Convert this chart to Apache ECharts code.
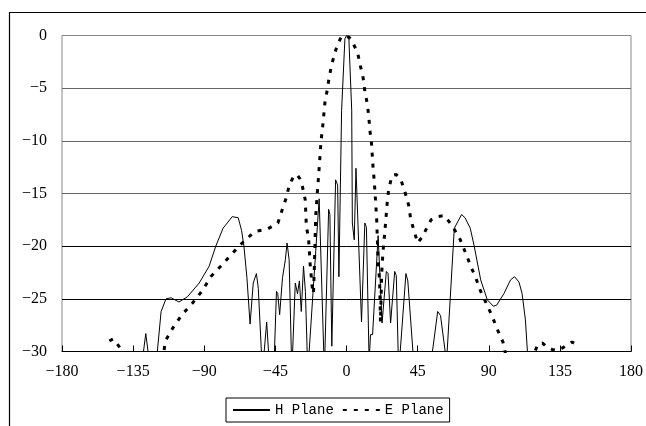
<!DOCTYPE html>
<html>
<head>
<meta charset="utf-8">
<script src="https://cdn.jsdelivr.net/npm/echarts@6/dist/echarts.min.js"></script>
<style>
html,body{margin:0;padding:0;background:#fff;}
#chart{width:646px;height:426px;}
</style>
</head>
<body>
<div id="chart"></div>
<script>
// Axis ticks
const xTicks = [-180, -135, -90, -45, 0, 45, 90, 135, 180];
const yTicks = [-30, -25, -20, -15, -10, -5, 0];
const seriesNames = ['H Plane', 'E Plane'];

// H Plane (solid)
const hAngles = [-131, -127, -123, -120, -117.3, -114.2, -111, -106, -100.6, -93.2, -86.9, -82.7, -78.1, -72.3, -68.5, -66.4, -64.9,
  -63, -61, -59, -57, -55.8, -53.2, -50.5, -48.5, -45.8, -44.3, -43.5, -42.3, -40.5, -38.7, -37.6, -36.3, -34.6,
  -32.4, -31, -29.8, -28.6, -27.2, -26, -24.5, -17.3, -14, -11.3, -10.5, -9.3, -6.9, -5.6, -4.8,
  -3.1, -1.0, 0, 1.5, 3.3, 3.7, 4.9, 6.0, 7.2, 9.5, 11.6, 12.6, 14.3, 15.2, 16.5, 20.0, 22.5, 25.2, 26.3, 27.9,
  30.5, 31.5, 33, 37.6, 38.8, 43, 53.5, 57.7, 59.5, 63.3, 68.2, 72.8, 75, 78.3, 80.8, 84.9, 89.1, 92.9, 95,
  99.6, 103.8, 106.3, 109.1, 111.1, 113.2, 115.3];
const hValues = [-33, -28.3, -33, -30.5, -26.2, -25.0, -24.9, -25.3, -24.8, -23.5, -21.9, -20.0, -18.3, -17.2, -17.3, -18.5, -20.0,
  -23, -27.4, -23.5, -22.6, -24, -32, -27.2, -32, -31, -24.3, -24.5, -26.5, -23, -21.3, -19.7, -21.3, -32,
  -23.5, -24.5, -23.3, -26.2, -21.9, -24.3, -32, -15.5, -32, -16.5, -17, -29.5, -13.7, -14.2, -22.9,
  -7.1, -0.3, 0, -0.3, -7.1, -17.8, -19.4, -12.6, -12.5, -27.2, -17.8, -18.2, -31, -28.4, -28.4, -19.0, -27.3, -22.4, -22.6, -27.3,
  -22.4, -22.8, -32, -22.6, -23.3, -32, -31, -26.2, -26.6, -31, -18.3, -17.0, -17.3, -18.3, -20.0, -23.2, -25.1, -25.7, -25.6,
  -24.5, -23.2, -22.9, -23.4, -24.5, -27, -32];

// E Plane (dotted)
const eAngles = [-150, -147.7, -145, -142.5, -140, -120, -116, -114.6, -109.6, -104.1, -97.4, -91.1, -85.9, -79.6, -72.3, -66, -58,
  -50.3, -43.4, -40.8, -38.1, -36.2, -33.5, -31.4, -29.5, -27.8, -26.1, -25.4, -24.0, -23.0, -21.5, -20.9, -20.3, -19.5,
  -18.4, -17.2, -16.1, -15.1, -13.6, -12.1, -10.9, -9.4, -7.3, -5.5, -3.5, -1.5, 0.5, 1.8, 3.2, 5, 7.0, 8.5, 10.5, 11.6,
  13.2, 14.1, 14.8, 15.8, 16.8, 17.6, 18.3, 19.1, 19.9, 21.0, 21.5, 22.3, 23.1, 24.5, 25.8, 26.7, 28.8, 31.5, 34.2, 36.7,
  39.3, 40.5, 42.6, 45.1, 47.5, 49.7, 53.5, 57, 61.9, 67.1, 72, 75.5, 78.6, 81.8, 84.9, 88.7, 92.3, 95.4, 99, 101, 110,
  118, 121, 124, 127, 130, 133, 136.3, 142.6, 144];
const eValues = [-29.0, -28.8, -29.3, -29.8, -31, -32, -30.5, -29.0, -27.7, -26.5, -25.4, -24.2, -22.9, -21.9, -20.7, -19.7, -18.6,
  -18.4, -17.8, -16.6, -15.4, -14.2, -13.4, -13.2, -13.6, -14.4, -15.6, -18.1, -19.3, -21.7, -24.2, -24.5, -21.9, -17.2,
  -14.8, -12.4, -10.0, -8.7, -6.3, -5.1, -3.9, -2.8, -1.6, -0.8, -0.2, 0, -0.1, -0.2, -0.4, -1.0, -1.6, -2.7, -4.0, -5.3,
  -6.5, -7.7, -9.0, -10.2, -12.5, -13.9, -15.5, -17.5, -21.0, -23.5, -27.2, -22.5, -20.5, -18.2, -15.8, -14.6, -13.3, -13.2, -13.6, -14.7,
  -16.1, -17.3, -18.5, -19.7, -19.2, -18.6, -17.5, -17.2, -17.1, -18.1, -19.4, -20.7, -21.9, -23.0, -24.3, -25.5, -26.7, -27.9, -29.1, -30.5, -32,
  -30.5, -29.3, -29.2, -29.6, -29.8, -29.9, -29.7, -29.1, -29.2];

const zip = (a, b) => a.map((v, i) => [v, b[i]]);
const fmt = v => (v < 0 ? '\u2212' + (-v) : String(v));

const chart = echarts.init(document.getElementById('chart'), null, {renderer: 'canvas'});
chart.setOption({
  animation: false,
  backgroundColor: '#fff',
  graphic: [{
    type: 'rect', left: 7, top: 10, z: -10,
    shape: {width: 700, height: 500},
    style: {fill: 'none', stroke: '#000', lineWidth: 1.2}
  }],
  grid: {left: 62, right: 12, top: 35.5, bottom: 74.5, show: true, borderColor: '#888', borderWidth: 1},
  legend: {
    left: 226, top: 398,
    data: seriesNames,
    itemWidth: 37, itemHeight: 14, itemGap: 8,
    padding: [5, 6, 5, 6],
    borderColor: '#000', borderWidth: 1,
    itemStyle: {opacity: 0},
    textStyle: {fontFamily: 'Liberation Mono', fontSize: 14, color: '#000'}
  },
  xAxis: {
    type: 'value', min: xTicks[0], max: xTicks[xTicks.length - 1], interval: 45,
    axisLine: {show: true, onZero: false, lineStyle: {color: '#000', width: 1}},
    axisTick: {show: true, inside: true, length: 6, lineStyle: {color: '#000'}},
    axisLabel: {margin: 12, color: '#000', fontFamily: 'Liberation Serif', fontSize: 16, formatter: fmt},
    splitLine: {show: false}
  },
  yAxis: {
    type: 'value', min: yTicks[0], max: yTicks[yTicks.length - 1], interval: 5,
    axisLine: {show: false},
    axisTick: {show: false},
    axisLabel: {margin: 15, color: '#000', fontFamily: 'Liberation Serif', fontSize: 16, formatter: fmt},
    splitLine: {show: true, lineStyle: {color: ['#000', '#000', '#000', '#666', '#666', '#666', '#888'], width: 1}}
  },
  series: [
    {
      name: seriesNames[0], type: 'line', data: zip(hAngles, hValues),
      symbol: 'none', showSymbol: false, clip: true,
      lineStyle: {color: '#000', width: 1},
      itemStyle: {color: '#000'}
    },
    {
      name: seriesNames[1], type: 'line', data: zip(eAngles, eValues),
      symbol: 'none', showSymbol: false, clip: true,
      lineStyle: {color: '#000', width: 3, type: [4, 7]},
      itemStyle: {color: '#000'}
    }
  ]
});
</script>
</body>
</html>
